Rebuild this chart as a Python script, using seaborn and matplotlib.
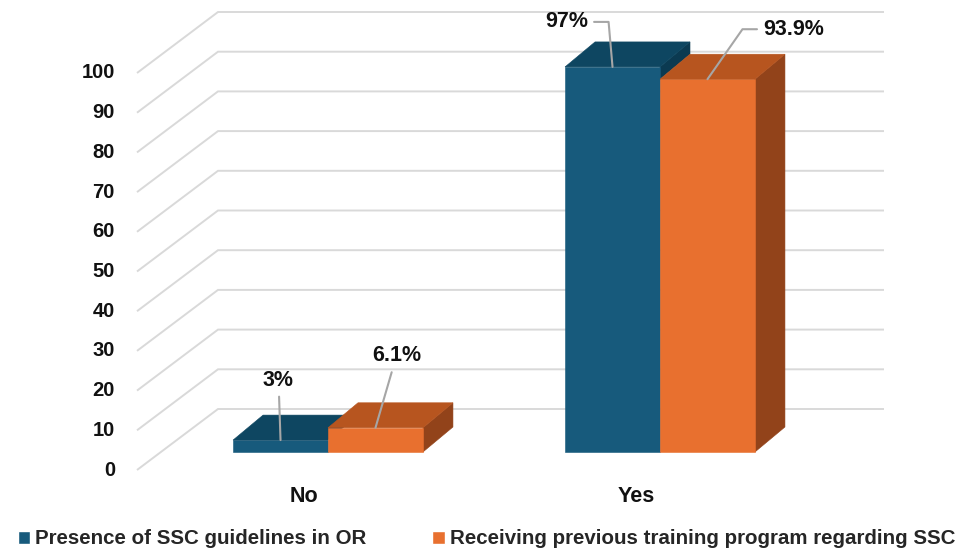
import numpy as np
import pandas as pd
import matplotlib
matplotlib.use("Agg")
import matplotlib.pyplot as plt
import matplotlib.colors as mcolors
from matplotlib.patches import Polygon, Rectangle
import seaborn as sns

# ---------------- data ----------------
categories = ["No", "Yes"]
series = ["Presence of SSC guidelines in OR",
          "Receiving previous training program regarding SSC"]
guidelines = [3, 97]
training = [6.1, 93.9]
yticks = [0, 10, 20, 30, 40, 50, 60, 70, 80, 90, 100]

# ---------------- style ----------------
colors_front = ["#175A7C", "#E8702F"]
colors_top = ["#0E4661", "#B7551F"]
colors_side = ["#0B3A51", "#92431A"]
grid_color = "#d9d9d9"
leader_color = "#a6a6a6"

df = pd.DataFrame({
    "answer": categories * 2,
    "series": [series[0]] * len(categories) + [series[1]] * len(categories),
    "value": guidelines + training,
})

sns.set_theme(style="white")
plt.rcParams["font.family"] = ["Liberation Sans", "DejaVu Sans"]

W, H = 965, 552
fig = plt.figure(figsize=(W / 100, H / 100), dpi=100)
ax = fig.add_axes([0, 0, 1, 1])

sns.barplot(data=df, x="answer", y="value", hue="series", order=categories,
            hue_order=series, palette=colors_front, width=0.572, saturation=1,
            ax=ax, legend=True)

# pixel scale of the bar plane
PX_X = 332.0   # pixels per category unit
PX_Y = 3.97    # pixels per value unit
X0 = 328.0     # pixel x of category 0
Y0 = 452.0     # pixel y (from top) of value 0 on the bar plane

def dxp(p):
    return p / PX_X

def dyp(p):
    return p / PX_Y

# depth offsets
bar_dx, bar_dy = dxp(30), dyp(25)
front_dx, front_dy = dxp(-24), dyp(-18)
back_dx, back_dy = dxp(57), dyp(43)

# ---------------- 3D bars ----------------
front_hex = [mcolors.to_hex(c) for c in colors_front]
info = []
for p in list(ax.patches):
    if not isinstance(p, Rectangle) or p.get_width() <= 0 or p.get_height() <= 0:
        continue
    k = front_hex.index(mcolors.to_hex(p.get_facecolor()))
    info.append((p, k))

def right_neighbour_height(p, k):
    x1 = p.get_x() + p.get_width()
    for q, kq in info:
        if kq == k + 1 and abs(q.get_x() - x1) < 1e-6:
            return q.get_height()
    return 0.0

for p, k in info:
    x0 = p.get_x()
    w = p.get_width()
    h = p.get_height()
    x1 = x0 + w
    z = 3 + 2 * k
    p.set_zorder(z)
    p.set_edgecolor(colors_front[k])
    p.set_linewidth(0.4)
    top = Polygon([(x0, h), (x1, h), (x1 + bar_dx, h + bar_dy), (x0 + bar_dx, h + bar_dy)],
                  closed=True, facecolor=colors_top[k], edgecolor=colors_top[k],
                  lw=0.4, zorder=z)
    ax.add_patch(top)
    hn = right_neighbour_height(p, k)
    if h > hn:
        side = Polygon([(x1, hn), (x1, h), (x1 + bar_dx, h + bar_dy), (x1 + bar_dx, hn + bar_dy)],
                       closed=True, facecolor=colors_side[k], edgecolor=colors_side[k],
                       lw=0.4, zorder=z - 0.5)
        ax.add_patch(side)

# ---------------- walls / gridlines ----------------
FL_x = dxp(137 - X0)
BL_x = dxp(218 - X0)
BR_x = dxp(884 - X0)
for v in yticks:
    ax.plot([FL_x, BL_x, BR_x], [v + front_dy, v + back_dy, v + back_dy],
            color=grid_color, lw=1.4, zorder=1, solid_joinstyle="miter",
            solid_capstyle="butt")
    ax.text(dxp(115 - X0), v + front_dy, f"{v}", ha="right", va="center",
            fontsize=14.5, fontweight="bold", color="#111111")

for i, c in enumerate(categories):
    ax.text(i + front_dx, dyp(Y0 - 497), c, ha="center", va="center",
            fontsize=15.5, fontweight="bold", color="#111111")

# ---------------- data labels ----------------
values = [guidelines, training]
n = len(series)
label_offsets = {
    (0, 0): (-2, 60, None),
    (1, 0): (21, 72, None),
    (0, 1): (-46, 45, "angle,angleA=0,angleB=95,rad=0"),
    (1, 1): (86, 50, "angle,angleA=0,angleB=55,rad=0"),
}
for k in range(n):
    for i in range(len(categories)):
        v = values[k][i]
        xc = i + (k - (n - 1) / 2) * 0.572 / n
        ox, oy, cs = label_offsets[(k, i)]
        ap = dict(arrowstyle="-", color=leader_color, lw=1.5, shrinkA=2, shrinkB=0)
        if cs:
            ap["connectionstyle"] = cs
        ax.annotate(f"{v:g}%", xy=(xc, v), xytext=(ox, oy),
                    textcoords="offset pixels", ha="center", va="center",
                    fontsize=15.5, fontweight="bold", color="#111111",
                    arrowprops=ap, zorder=10)

ax.set_xlim(dxp(-X0), dxp(W - X0))
ax.set_ylim(dyp(-(H - Y0)), dyp(Y0))
ax.axis("off")

# ---------------- legend ----------------
handles, labels = ax.get_legend_handles_labels()
leg = ax.legend(handles, labels, loc="center", bbox_to_anchor=(0.504, 0.0236),
                bbox_transform=fig.transFigure, ncol=2, frameon=False,
                prop={"weight": "bold", "size": 14.8}, handlelength=0.6,
                handleheight=0.6, handletextpad=0.25, columnspacing=3.2,
                borderpad=0, borderaxespad=0)

fig.savefig("out.png", dpi=100, facecolor="white")
